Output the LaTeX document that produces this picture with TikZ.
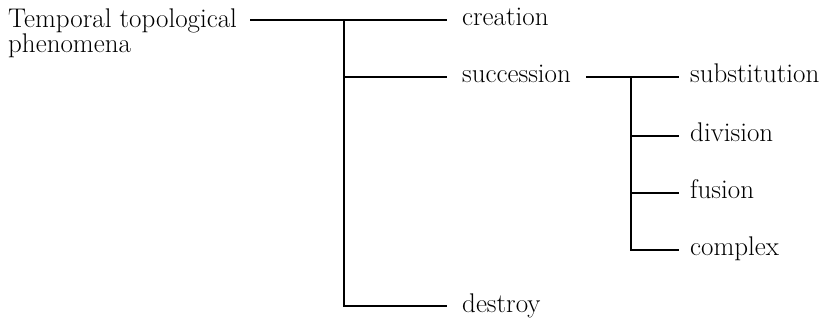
\documentclass[tikz,border=0pt]{standalone}
\usepackage{tikz}
\usetikzlibrary{positioning,calc}
\tikzset{
  %% Root label
  rootnode/.style={
    align=left, inner xsep=13pt, inner ysep=0pt,
    font=\fontsize{27}{25.5}\selectfont},
  %% First level labels
  catnode/.style={
    inner xsep=15pt, inner ysep=0pt,
    text height=19pt, text depth=7pt,
    font=\fontsize{27}{25.5}\selectfont},
  %% Second level labels
  leafnode/.style={
    inner xsep=11pt, inner ysep=0pt,
    text height=19pt, text depth=7pt,
    font=\fontsize{27}{25.5}\selectfont},
  %% Tree lines
  branch/.style={line width=1.3pt, black},
}
\begin{document}
\begin{tikzpicture}[x=1pt, y=-1pt]
  \useasboundingbox (0,0) rectangle (824,320);

  %% Root
  \node[rootnode, anchor=base west] (root) at (-5,53) {Temporal topological\\phenomena};

  %% First level
  \node[catnode, anchor=west] (creation)   at (447,20)  {creation};
  \node[catnode, anchor=west] (succession) at (447,77)  {succession};
  \node[catnode, anchor=west] (destroy)    at (447,306) {destroy};

  %% Second level
  \node[leafnode, anchor=west] (substitution) at (679,77)  {substitution};
  \node[leafnode, anchor=west] (division)     at (679,136) {division};
  \node[leafnode, anchor=west] (fusion)       at (679,193) {fusion};
  \node[leafnode, anchor=west] (complex)      at (679,250) {complex};

  %% Junctions
  \coordinate (j1) at (344,20);
  \coordinate (j2) at (631,77);

  \draw[branch] (root.east |- j1) -- (j1) -- (creation.west);
  \draw[branch] (j1) |- (destroy.west);
  \draw[branch] (j1 |- succession.west) -- (succession.west);

  \draw[branch] (succession.east) -- (j2) -- (substitution.west);
  \draw[branch] (j2) |- (complex.west);
  \draw[branch] (j2 |- division.west) -- (division.west);
  \draw[branch] (j2 |- fusion.west) -- (fusion.west);

\end{tikzpicture}
\end{document}
